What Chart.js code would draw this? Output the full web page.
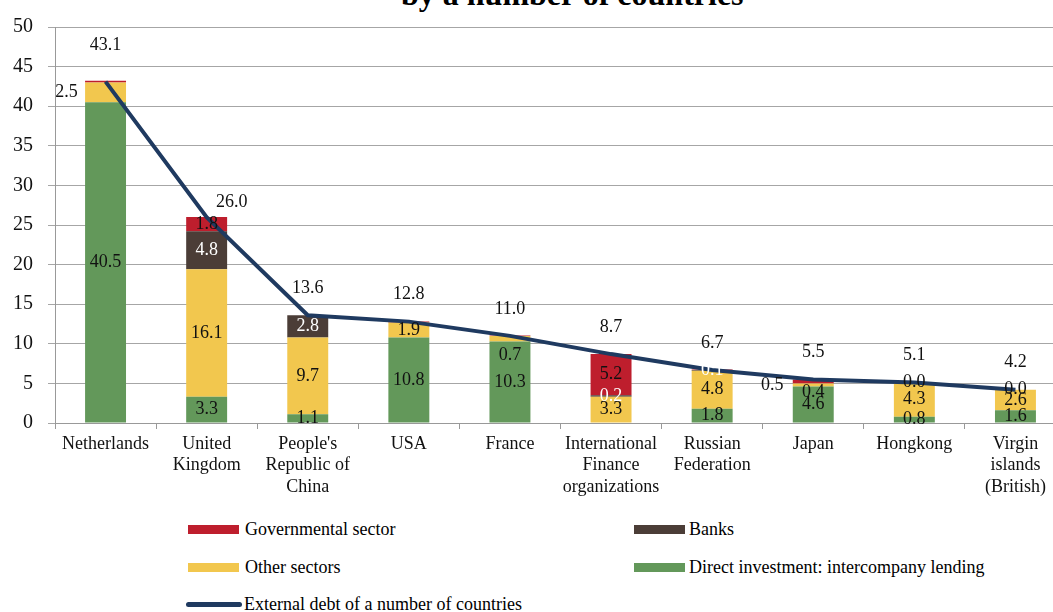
<!DOCTYPE html>
<html>
<head>
<meta charset="utf-8">
<script src="https://cdn.jsdelivr.net/npm/chart.js@4"></script>
<style>
  html, body { margin: 0; padding: 0; background: #fff; overflow: hidden; }
  body { width: 1053px; height: 612px; position: relative; font-family: "Liberation Serif", "Times New Roman", serif; color: #000; }
  #title { position: absolute; left: 401px; top: -22px; font-size: 32px; font-weight: bold; line-height: 32px; white-space: nowrap; }
  #chartBox { position: absolute; left: 0; top: 0; width: 1068px; height: 500px; }
  .lg { position: absolute; font-size: 18px; line-height: 20px; white-space: nowrap; }
  .box { position: absolute; width: 51px; height: 9px; }
  .ln { position: absolute; width: 56px; height: 5px; border-radius: 3px; background: #1F3A60; }
</style>
</head>
<body>
<div id="title">by a number of countries</div>
<div id="chartBox"><canvas id="myChart" width="1068" height="500"></canvas></div>

<div class="box" style="left:188px; top:525px; background:#BE1E2D"></div>
<div class="lg" style="left:245px; top:519px">Governmental sector</div>
<div class="box" style="left:634px; top:525px; background:#4B3D37"></div>
<div class="lg" style="left:689px; top:519px">Banks</div>
<div class="box" style="left:188px; top:563px; background:#F2C74E"></div>
<div class="lg" style="left:245px; top:557px">Other sectors</div>
<div class="box" style="left:634px; top:563px; background:#63985A"></div>
<div class="lg" style="left:689px; top:557px">Direct investment: intercompany lending</div>
<div class="ln" style="left:186px; top:602px"></div>
<div class="lg" style="left:244px; top:594px">External debt of a number of countries</div>

<script>
const categories = [
    'Netherlands',
    ['United', 'Kingdom'],
    ["People's", 'Republic of', 'China'],
    'USA',
    'France',
    ['International', 'Finance', 'organizations'],
    ['Russian', 'Federation'],
    'Japan',
    'Hongkong',
    ['Virgin', 'islands', '(British)']
];

const governmental = [0.2, 1.8, null, 0.1, 0.05, 5.2, 0.05, 0.5, 0.0, 0.0];
const banks = [null, 4.8, 2.8, null, null, 0.2, 0.1, null, null, null];
const otherSectors = [2.5, 16.1, 9.7, 1.9, 0.7, 3.3, 4.8, 0.4, 4.3, 2.6];
const directInvestment = [40.5, 3.3, 1.1, 10.8, 10.3, null, 1.8, 4.6, 0.8, 1.6];
const externalDebt = [43.1, 26.0, 13.6, 12.8, 11.0, 8.7, 6.7, 5.5, 5.1, 4.2];

const yTicks = [0, 5, 10, 15, 20, 25, 30, 35, 40, 45, 50];

// labels that were moved by hand in the original
const labelOffsets = {
    'other:0': [-39, 0],
    'other:4': [0, 17],
    'other:7': [0, 7],
    'gov:7': [-41, 4],
    'total:0': [0, -36],
    'total:1': [25, -15]
};

const serif = '"Liberation Serif", "Times New Roman", serif';

const valueLabels = {
    id: 'valueLabels',
    afterDatasetsDraw(chart) {
        const ctx = chart.ctx;
        ctx.save();
        ctx.font = '18px ' + serif;
        ctx.textAlign = 'center';
        ctx.textBaseline = 'middle';
        chart.data.datasets.forEach((ds, di) => {
            const meta = chart.getDatasetMeta(di);
            meta.data.forEach((el, i) => {
                const v = ds.data[i];
                if (v === null || v === undefined) return;
                if ((ds.hideLabels || []).includes(i)) return;
                const isLine = ds.type === 'line';
                const off = labelOffsets[ds.key + ':' + i] || (isLine ? [0, -27] : [0, 0]);
                const y = isLine ? el.y : (el.y + el.base) / 2;
                ctx.fillStyle = ds.labelColor;
                ctx.fillText(v.toFixed(1), el.x + off[0], y + off[1]);
            });
        });
        ctx.restore();
    }
};

const barCommon = { type: 'bar', stack: 's', order: 1, barPercentage: 0.405, categoryPercentage: 1, borderWidth: 0 };

const data = {
    labels: categories,
    datasets: [
        { ...barCommon, key: 'direct', label: 'Direct investment: intercompany lending', data: directInvestment, backgroundColor: '#63985A', labelColor: '#111' },
        { ...barCommon, key: 'other', label: 'Other sectors', data: otherSectors, backgroundColor: '#F2C74E', labelColor: '#111' },
        { ...barCommon, key: 'banks', label: 'Banks', data: banks, backgroundColor: '#4B3D37', labelColor: '#fff' },
        { ...barCommon, key: 'gov', label: 'Governmental sector', data: governmental, backgroundColor: '#BE1E2D', labelColor: '#111', hideLabels: [0, 3, 4, 6] },
        {
            type: 'line', key: 'total', order: 0,
            label: 'External debt of a number of countries',
            data: externalDebt,
            borderColor: '#1F3A60',
            backgroundColor: '#1F3A60',
            borderWidth: 4,
            pointRadius: 0,
            tension: 0,
            fill: false,
            labelColor: '#111'
        }
    ]
};

const options = {
    responsive: false,
    animation: false,
    devicePixelRatio: 1,
    layout: { padding: { top: 23, right: 2, left: 0, bottom: 0 } },
    scales: {
        x: {
            stacked: true,
            grid: { drawOnChartArea: false, color: '#999', tickLength: 6, offset: true },
            border: { color: '#999' },
            ticks: { color: '#111', font: { family: serif, size: 18 }, padding: 4, maxRotation: 0, autoSkip: false },
            afterFit: (s) => { s.height = 77; }
        },
        y: {
            stacked: true,
            min: 0,
            max: 50,
            afterBuildTicks: (s) => { s.ticks = yTicks.map(v => ({ value: v })); },
            grid: { color: '#A6A6A6', tickLength: 7 },
            border: { color: '#999' },
            ticks: { color: '#111', font: { family: serif, size: 20 }, padding: 15 },
            afterFit: (s) => { s.width = 55; }
        }
    },
    plugins: {
        legend: { display: false },
        tooltip: { enabled: false }
    }
};

const canvas = document.getElementById('myChart');
const ctx = canvas.getContext('2d');

const myChart = new Chart(ctx, {
    data: data,
    options: options,
    plugins: [valueLabels]
});
</script>
</body>
</html>
